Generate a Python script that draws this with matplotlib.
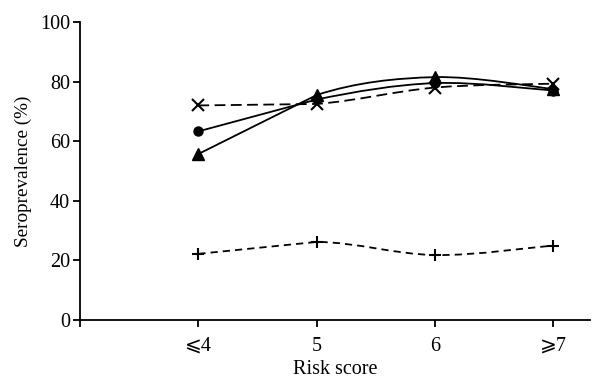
import matplotlib
matplotlib.use("Agg")
import matplotlib.pyplot as plt
from matplotlib.path import Path
from matplotlib.patches import PathPatch

plt.rcParams["font.family"] = ["Liberation Serif", "DejaVu Serif", "DejaVu Sans"]

# categories and seroprevalence (%) per risk score
risk_labels = ["⩽4", "5", "6", "⩾7"]
circle_vals = [63.3, 74.0, 79.5, 77.0]
triangle_vals = [55.7, 75.5, 81.5, 77.5]
cross_vals = [72.0, 72.5, 78.0, 79.3]
plus_vals = [22.2, 26.2, 21.8, 25.0]


def smooth_path(xs, ys, tension=0.5):
    """Straight first segment, then Catmull-Rom style curves as Bezier segments."""
    verts = [(xs[0], ys[0])]
    codes = [Path.MOVETO]
    n = len(xs)
    for i in range(n - 1):
        x1, y1 = xs[i], ys[i]
        x2, y2 = xs[i + 1], ys[i + 1]
        if i == 0:
            verts.append((x2, y2))
            codes.append(Path.LINETO)
            continue
        x0, y0 = xs[i - 1], ys[i - 1]
        x3, y3 = (xs[i + 2], ys[i + 2]) if i + 2 < n else (x2, y2)
        c1 = (x1 + (x2 - x0) * tension / 3, y1 + (y2 - y0) * tension / 3)
        c2 = (x2 - (x3 - x1) * tension / 3, y2 - (y3 - y1) * tension / 3)
        verts += [c1, c2, (x2, y2)]
        codes += [Path.CURVE4] * 3
    return Path(verts, codes)


fig = plt.figure(figsize=(6.01, 3.78), dpi=100)
ax = fig.add_axes([0.133, 0.1534, 0.849, 0.7884])

x = list(range(len(risk_labels)))
series = [
    (circle_vals, "o", 6.5, "-"),
    (triangle_vals, "^", 8, "-"),
    (cross_vals, "x", 9, (0, (6, 3))),
    (plus_vals, "+", 8, (0, (4, 2.8))),
]
for vals, marker, ms, ls in series:
    patch = PathPatch(smooth_path(x, vals), facecolor="none", edgecolor="black",
                      lw=1.3, linestyle=ls)
    ax.add_patch(patch)
    ax.plot(x, vals, linestyle="none", marker=marker, ms=ms, color="black",
            mew=1.5 if marker in "x+" else 1)

ax.set_xlim(-1.0, 3.31)
ax.set_ylim(0, 100)
ax.set_xticks(x)
ax.set_xticklabels(risk_labels)
ax.set_xticks([-1.0], minor=True)
ax.set_yticks(range(0, 101, 20))

for side in ("top", "right"):
    ax.spines[side].set_visible(False)
for side in ("left", "bottom"):
    ax.spines[side].set_linewidth(1.3)

ax.tick_params(axis="both", which="both", direction="out", length=5, width=1.3,
               labelsize=14.5, color="black")
ax.tick_params(axis="x", pad=7)
ax.tick_params(axis="y", pad=2)

ax.set_xlabel("Risk score", fontsize=14.5, va="top")
ax.xaxis.set_label_coords(0.5, -0.135)
ax.set_ylabel("Seroprevalence (%)", fontsize=13.8)
ax.yaxis.set_label_coords(-0.094, 0.5)

fig.savefig("out.png", dpi=100)
